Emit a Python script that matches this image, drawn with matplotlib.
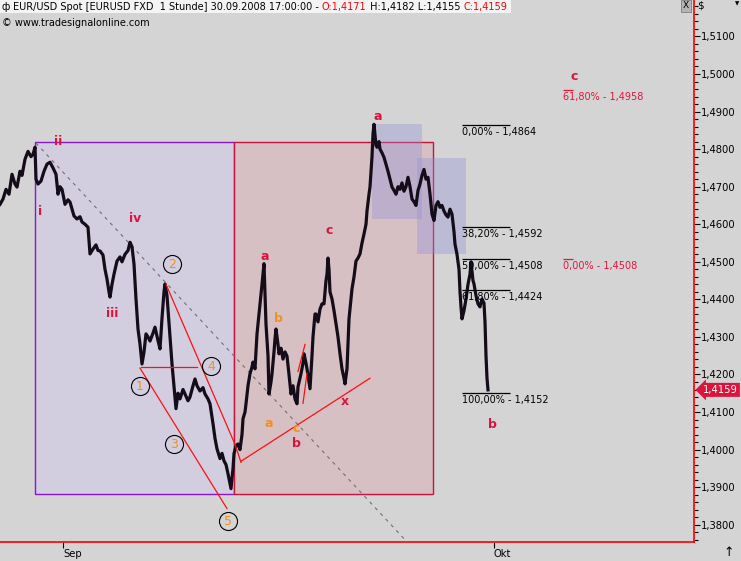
"""EUR/USD Spot 1h - Elliott wave count, Sep 2008"""

import matplotlib
matplotlib.use('Agg')
import matplotlib.pyplot as plt
from matplotlib.patches import Rectangle
from matplotlib.ticker import MultipleLocator, FuncFormatter
from matplotlib.transforms import ScaledTranslation, blended_transform_factory

# hourly bar index (x) and closing price
bars = [0, 3, 6, 9, 12, 15, 17, 20, 22, 25, 28, 31, 33, 35, 36, 38, 41, 44, 47, 50,
        53, 56, 58, 60, 62, 65, 68, 70, 72, 74, 77, 80, 82, 85, 88, 90, 93, 96, 98, 100,
        103, 105, 107, 109, 110, 112, 114, 117, 120, 122, 125, 128, 130, 132, 134, 136, 138, 140, 142, 144,
        146, 148, 150, 153, 155, 158, 160, 162, 164, 165, 167, 168, 170, 172, 174, 176, 178, 180, 183, 185,
        188, 190, 193, 195, 197, 200, 203, 205, 208, 210, 213, 215, 217, 220, 222, 224, 226, 228, 230, 231,
        233, 234, 236, 238, 240, 242, 243, 245, 246, 248, 250, 252, 253, 255, 257, 259, 260, 262, 263, 264,
        266, 268, 269, 271, 272, 274, 275, 276, 278, 279, 281, 283, 285, 287, 289, 291, 293, 295, 297, 298,
        300, 301, 303, 304, 306, 307, 309, 310, 312, 313, 315, 316, 318, 320, 322, 324, 326, 327, 328, 329,
        330, 332, 334, 336, 338, 340, 342, 344, 345, 347, 349, 351, 352, 354, 356, 358, 360, 362, 364, 366,
        367, 369, 370, 372, 373, 374, 376, 377, 379, 380, 382, 384, 386, 388, 390, 392, 394, 396, 398, 400,
        402, 404, 406, 408, 410, 412, 414, 416, 418, 420, 422, 424, 426, 428, 430, 432, 434, 436, 438, 440,
        442, 444, 446, 448, 450, 452, 454, 455, 457, 459, 460, 461, 462, 464, 466, 468, 470, 471, 473, 474,
        476, 478, 480, 482, 484, 485, 486, 487, 488]
close = [1.4653, 1.4667, 1.4693, 1.4680, 1.4733, 1.4707, 1.4699, 1.4741, 1.4730, 1.4773,
         1.4794, 1.4780, 1.4786, 1.4805, 1.4720, 1.4707, 1.4715, 1.4741, 1.4760, 1.4765,
         1.4750, 1.4733, 1.4680, 1.4700, 1.4693, 1.4653, 1.4665, 1.4659, 1.4640, 1.4622,
         1.4614, 1.4620, 1.4606, 1.4600, 1.4592, 1.4521, 1.4534, 1.4545, 1.4530, 1.4529,
         1.4518, 1.4480, 1.4454, 1.4420, 1.4406, 1.4440, 1.4467, 1.4502, 1.4513, 1.4500,
         1.4520, 1.4530, 1.4552, 1.4540, 1.4494, 1.4401, 1.4321, 1.4281, 1.4228, 1.4260,
         1.4308, 1.4300, 1.4289, 1.4310, 1.4326, 1.4290, 1.4268, 1.4350, 1.4420, 1.4441,
         1.4410, 1.4374, 1.4300, 1.4228, 1.4170, 1.4109, 1.4150, 1.4135, 1.4160, 1.4148,
         1.4130, 1.4140, 1.4170, 1.4188, 1.4170, 1.4156, 1.4165, 1.4148, 1.4135, 1.4122,
         1.4069, 1.4030, 1.4002, 1.3976, 1.3990, 1.3970, 1.3960, 1.3936, 1.3910, 1.3896,
         1.3950, 1.3989, 1.4010, 1.4015, 1.4000, 1.4040, 1.4082, 1.4100, 1.4122, 1.4170,
         1.4202, 1.4220, 1.4233, 1.4215, 1.4308, 1.4360, 1.4388, 1.4440, 1.4467, 1.4495,
         1.4334, 1.4250, 1.4148, 1.4180, 1.4202, 1.4260, 1.4295, 1.4321, 1.4280, 1.4255,
         1.4270, 1.4241, 1.4260, 1.4249, 1.4200, 1.4148, 1.4170, 1.4135, 1.4122, 1.4167,
         1.4190, 1.4202, 1.4230, 1.4255, 1.4230, 1.4215, 1.4180, 1.4162, 1.4250, 1.4300,
         1.4361, 1.4361, 1.4340, 1.4374, 1.4388, 1.4388, 1.4450, 1.4467, 1.4510, 1.4480,
         1.4420, 1.4401, 1.4370, 1.4334, 1.4300, 1.4255, 1.4215, 1.4190, 1.4175, 1.4215,
         1.4348, 1.4400, 1.4428, 1.4460, 1.4502, 1.4510, 1.4521, 1.4550, 1.4574, 1.4600,
         1.4635, 1.4680, 1.4699, 1.4780, 1.4840, 1.4866, 1.4810, 1.4805, 1.4820, 1.4800,
         1.4790, 1.4778, 1.4760, 1.4741, 1.4720, 1.4699, 1.4690, 1.4680, 1.4700, 1.4693,
         1.4710, 1.4688, 1.4700, 1.4725, 1.4700, 1.4667, 1.4660, 1.4650, 1.4690, 1.4707,
         1.4730, 1.4746, 1.4720, 1.4725, 1.4680, 1.4627, 1.4610, 1.4650, 1.4660, 1.4645,
         1.4650, 1.4635, 1.4625, 1.4619, 1.4640, 1.4627, 1.4580, 1.4547, 1.4520, 1.4480,
         1.4420, 1.4380, 1.4348, 1.4370, 1.4401, 1.4440, 1.4467, 1.4500, 1.4450, 1.4441,
         1.4410, 1.4388, 1.4380, 1.4401, 1.4390, 1.4340, 1.4250, 1.4190, 1.4159]
last_price = 1.4159

month_ticks = [63, 494]
month_labels = ['Sep', 'Okt']

# boxes: (bar0, bar1, price_low, price_high)
impulse_box = (35, 234, 1.3881, 1.4819)
correction_box = (234, 433, 1.3881, 1.4819)
blue_boxes = [(372, 422, 1.4614, 1.4867), (417, 466, 1.4520, 1.4776)]

# red wave lines: (bar0, price0, bar1, price1)
wave_lines = [(166, 1.4440, 235, 1.4014),
              (141, 1.4219, 197, 1.4219),
              (140, 1.4217, 227, 1.3843),
              (235, 1.4014, 241, 1.3966),
              (241, 1.3969, 370, 1.4190),
              (298, 1.4208, 305, 1.4280),
              (303, 1.4123, 307, 1.4203)]
trend_line = (36, 1.4816, 420, 1.3717)

# retracement of the last leg
fib_levels = ['0,00%', '38,20%', '50,00%', '61,80%', '100,00%']
fib_prices = [1.4864, 1.4592, 1.4508, 1.4424, 1.4152]
fib_bars = (462, 510)
# projection
ext_levels = ['100,00%', '61,80%', '0,00%']
ext_prices = [1.5236, 1.4958, 1.4508]
ext_bars = (563, 573)

red_labels = ['ii', 'i', 'iv', 'iii', 'a', 'a', 'c', 'x', 'b', 'b', 'c']
red_x = [58, 40, 135, 112, 378, 265, 329, 345, 296, 492, 574]
red_y = [1.4821, 1.4635, 1.4614, 1.4363, 1.4888, 1.4515, 1.4584, 1.4128, 1.4017, 1.4067, 1.4993]
orange_labels = ['b', 'a', 'c']
orange_x = [278, 269, 296]
orange_y = [1.4350, 1.4070, 1.4057]
count_labels = ['1', '2', '3', '4', '5']
count_x = [140, 172, 174, 211, 228]
count_y = [1.4169, 1.4494, 1.4014, 1.4222, 1.3809]

W, H = 741, 561
GRAY = '#d4d4d4'
CRIMSON = '#dc143c'
ORANGE = '#f39020'


def fmt(p):
    return f'{p:.4f}'.replace('.', ',')


fig = plt.figure(figsize=(W / 100, H / 100), dpi=100, facecolor=GRAY)
ax = fig.add_axes([0, 19 / H, 694 / W, 542 / H])
ax.set_facecolor(GRAY)
ax.set_xlim(0, 694)
ax.set_ylim(1.3754, 1.5197)

# boxes
x0, x1, lo, hi = impulse_box
ax.add_patch(Rectangle((x0, lo), x1 - x0, hi - lo, fc='#d2cddf', ec='#8c14d2', lw=1, zorder=1))
x0, x1, lo, hi = correction_box
ax.add_patch(Rectangle((x0, lo), x1 - x0, hi - lo, fc='#d6c0c4', ec='#d0103c', lw=1, zorder=1))
for x0, x1, lo, hi in blue_boxes:
    ax.add_patch(Rectangle((x0, lo), x1 - x0, hi - lo, fc=(0.56, 0.56, 0.85, 0.35), ec='none', zorder=2))

# dashed trend line
ax.plot([trend_line[0], trend_line[2]], [trend_line[1], trend_line[3]],
        color='#707070', lw=0.8, ls=(0, (3, 4)), zorder=3)

# price
ax.plot(bars, close, color='#140c18', lw=2.3, zorder=4)

for b0, p0, b1, p1 in wave_lines:
    ax.plot([b0, b1], [p0, p1], color='#ff1010', lw=0.9, zorder=5)

# fibonacci retracement
ax.hlines(fib_prices, fib_bars[0], fib_bars[1], color='black', lw=0.9, zorder=5)
for lvl, p in zip(fib_levels, fib_prices):
    ax.annotate(f'{lvl} - {fmt(p)}', xy=(fib_bars[0], p), xytext=(0, -1.5),
                textcoords='offset points', va='top', ha='left', fontsize=7, zorder=6)

ax.hlines(ext_prices, ext_bars[0], ext_bars[1], color='#e8143c', lw=0.9, zorder=5)
for lvl, p in zip(ext_levels, ext_prices):
    ax.annotate(f'{lvl} - {fmt(p)}', xy=(ext_bars[0], p), xytext=(0, -1.5),
                textcoords='offset points', va='top', ha='left', fontsize=7,
                color='#e8143c', zorder=6, annotation_clip=False, clip_on=True)

for t, x, y in zip(red_labels, red_x, red_y):
    ax.text(x, y, t, color=CRIMSON, fontsize=9, fontweight='bold', ha='center', va='center', zorder=7)
for t, x, y in zip(orange_labels, orange_x, orange_y):
    ax.text(x, y, t, color=ORANGE, fontsize=9, fontweight='bold', ha='center', va='center', zorder=7)
ax.plot(count_x, count_y, 'o', ms=13, mfc='none', mec='black', mew=0.8, zorder=6)
for t, x, y in zip(count_labels, count_x, count_y):
    ax.text(x, y, t, color=ORANGE, fontsize=9, ha='center', va='center', zorder=7)

# axes
for side in ['left', 'top']:
    ax.spines[side].set_visible(False)
for side in ['right', 'bottom']:
    ax.spines[side].set_color('red')
    ax.spines[side].set_linewidth(1.2)
ax.yaxis.tick_right()
ax.yaxis.set_major_locator(MultipleLocator(0.01))
ax.yaxis.set_minor_locator(MultipleLocator(0.002))
ax.yaxis.set_major_formatter(FuncFormatter(lambda v, _: fmt(v)))
ax.tick_params(axis='y', which='major', length=4, width=0.8, pad=1, labelsize=7.2)
ax.tick_params(axis='y', which='minor', length=3, width=0.8)
ax.set_xticks(month_ticks)
ax.set_xticklabels(month_labels, ha='left')
ax.tick_params(axis='x', length=4, width=0.8, pad=1, labelsize=7.2)

# last price tag
tag_tr = blended_transform_factory(ax.transAxes, ax.transData) + \
    ScaledTranslation(9 / 100, 0, fig.dpi_scale_trans)
ax.text(1.0, last_price, fmt(last_price), transform=tag_tr, ha='left', va='center',
        color='white', fontsize=7.2, clip_on=False, zorder=12,
        bbox=dict(boxstyle='larrow,pad=0.2', fc=CRIMSON, ec='none'))

# header
ft = fig.transFigure
ax.add_patch(Rectangle((0, 1 - 13 / H), 511 / W, 13 / H, transform=ft, fc='#f4f4f4',
                       ec='none', clip_on=False, zorder=10))
ax.text(2 / W, 1 - 6.5 / H, '\u0444', transform=ft, fontsize=7, va='center', clip_on=False, zorder=11)
t = ax.text(13 / W, 1 - 12 / H, 'EUR/USD Spot [EURUSD FXD  1 Stunde] 30.09.2008 17:00:00 - ',
            transform=ft, fontsize=7, va='bottom', clip_on=False, zorder=11)
for txt, col in [('O:1,4171', 'red'), (' H:1,4182 L:1,4155 ', 'black'), ('C:1,4159', 'red')]:
    t = ax.annotate(txt, xy=(1, 0), xycoords=t, va='bottom', ha='left', fontsize=7,
                    color=col, annotation_clip=False, zorder=11)
ax.text(2 / W, 1 - 22.5 / H, '\u00a9 www.tradesignalonline.com', transform=ft, fontsize=7,
        va='center', clip_on=False, zorder=11)

# window controls
ax.add_patch(Rectangle((681 / W, 1 - 12 / H), 10 / W, 12 / H, transform=ft, fc='#b4b4b4',
                       ec='#808080', lw=0.6, clip_on=False, zorder=10))
ax.text(686 / W, 1 - 6 / H, 'X', transform=ft, fontsize=6.5, ha='center', va='center',
        clip_on=False, zorder=11)
ax.text(697 / W, 1 - 6 / H, '$', transform=ft, fontsize=7.5, va='center', clip_on=False, zorder=11)
ax.text(737 / W, 1 - 4 / H, '\u25bc', transform=ft, fontsize=4, ha='center', va='center',
        clip_on=False, zorder=11)
ax.text(729 / W, 1 - 552 / H, '\u2191', transform=ft, fontsize=9, ha='center', va='center',
        clip_on=False, zorder=11)

fig.savefig('out.png', dpi=100, facecolor=GRAY)
